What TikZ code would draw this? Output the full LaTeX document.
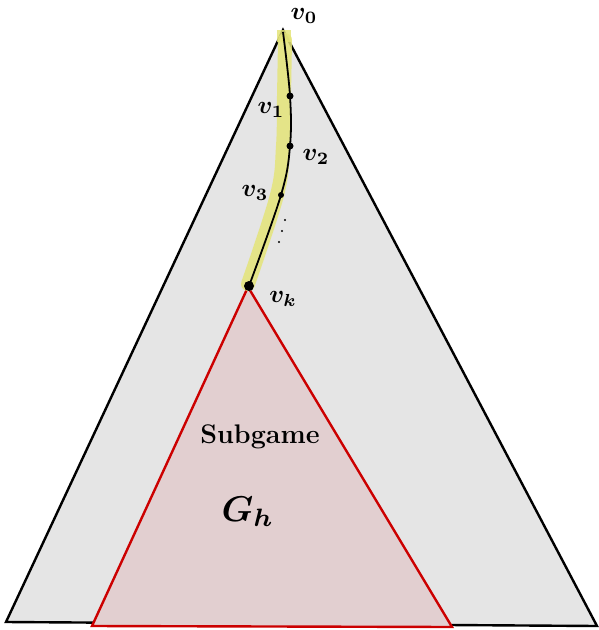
\documentclass[tikz,border=0pt]{standalone}
\usepackage{fontspec}
\usetikzlibrary{calc}
\definecolor{biggray}{RGB}{229,229,229}
\definecolor{subfill}{RGB}{226,207,208}
\definecolor{subred}{RGB}{204,0,0}
\definecolor{hl}{RGB}{228,228,120}
\tikzset{
  vlab/.style={scale=2.5,transform shape,inner sep=0pt,font=\boldmath},
  dotnode/.style={circle,fill=black,inner sep=0pt,minimum size=#1},
}
\begin{document}
\begin{tikzpicture}[x=1bp,y=-1bp]
\useasboundingbox (0,0) rectangle (599,630);
% main triangle
\coordinate (A) at (283,30);
\coordinate (L) at (6,622);
\coordinate (R) at (597,626);
\filldraw[fill=biggray,draw=black,line width=2.4bp,line join=miter] (A) -- (L) -- (R) -- cycle;
% subgame triangle
\coordinate (K) at (248,287);
\coordinate (SL) at (92,626);
\coordinate (SR) at (452,627);
\filldraw[fill=subfill,draw=subred,line width=2.4bp,line join=miter] (K) -- (SL) -- (SR) -- cycle;
% path vertices
\coordinate (V0) at (283,32);
\coordinate (V1) at (290,96);
\coordinate (V2) at (290,146);
\coordinate (V3) at (281,195);
\coordinate (VK) at (249,286);
% highlight
\draw[hl,opacity=0.85,line width=14bp,line cap=round] plot[smooth,tension=0.6] coordinates {(285,40) (284,96) (283,146) (277,195) (248,284)};
\fill[hl,opacity=0.85] (277,30) rectangle (291,42);
% path
\draw[black,line width=1.8bp] plot[smooth,tension=0.6] coordinates {(283,32) (290,96) (290,146) (281,195) (249,286)};
\node[dotnode=7bp] (n1) at (V1) {};
\node[dotnode=7bp] (n2) at (V2) {};
\node[dotnode=6bp] (n3) at (V3) {};
\node[dotnode=10bp] (nk) at (VK) {};
\node[dotnode=2.4bp] (e1) at (285,220) {};
\node[dotnode=2.4bp] (e2) at (282,231) {};
\node[dotnode=2.4bp] (e3) at (279,242) {};
% labels
\node[vlab] (l0) at (304,16) {$v_0$};
\node[vlab] (l1) at (271,110) {$v_1$};
\node[vlab] (l2) at (316,157) {$v_2$};
\node[vlab] (l3) at (255,193) {$v_3$};
\node[vlab] (lk) at (283,299) {$v_k$};
\node[font=\fontsize{27}{29}\selectfont\bfseries,inner sep=0pt] (sub) at (260,437) {Subgame};
\node[scale=3.6,transform shape,inner sep=0pt,font=\boldmath] (gh) at (248,512) {$G_h$};
\end{tikzpicture}
\end{document}
